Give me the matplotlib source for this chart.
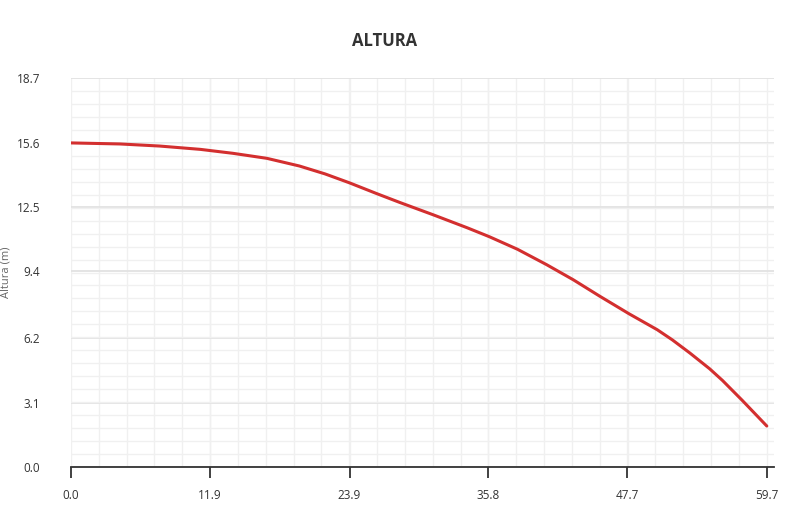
import numpy as np
from matplotlib import pyplot as plt
from matplotlib.ticker import FixedLocator

plt.rcParams['font.family'] = ['Open Sans', 'DejaVu Sans']

# caudal vs altura
caudal = [0.0, 4.2, 7.6, 11.1, 13.9, 16.8, 19.6, 21.8, 23.9, 26.2, 28.2, 31.1,
          34.0, 35.9, 38.3, 40.8, 43.1, 45.4, 47.9, 50.3, 51.6, 53.1, 54.8,
          55.9, 57.6, 59.7]
altura = [15.58, 15.53, 15.43, 15.27, 15.08, 14.84, 14.47, 14.09, 13.66, 13.15,
          12.72, 12.12, 11.50, 11.07, 10.47, 9.73, 9.00, 8.20, 7.36, 6.60,
          6.11, 5.48, 4.72, 4.16, 3.20, 1.97]
x_ticks = [0.0, 11.9, 23.9, 35.8, 47.7, 59.7]
y_ticks = [0.0, 3.1, 6.2, 9.4, 12.5, 15.6, 18.7]

fig = plt.figure(figsize=(7.92, 5.17), dpi=100)
ax = fig.add_axes([0.0896, 0.0967, 0.8874, 0.7524])

ax.plot(caudal, altura, color='#d32f2f', lw=2.2, solid_joinstyle='round',
        solid_capstyle='round', zorder=3)

ax.set_xlim(0, 60.3)
ax.set_ylim(0, 18.7)
ax.xaxis.set_major_locator(FixedLocator(x_ticks))
ax.yaxis.set_major_locator(FixedLocator(y_ticks))
ax.set_xticklabels(['{:.1f}'.format(t) for t in x_ticks])
ax.set_yticklabels(['{:.1f}'.format(t) for t in y_ticks])
ax.xaxis.set_minor_locator(FixedLocator(np.arange(0, 60.3, 59.7 / 25)))
ax.yaxis.set_minor_locator(FixedLocator(np.arange(0, 18.75, 18.7 / 30)))

ax.grid(which='minor', color='#f0f0f0', lw=1)
ax.grid(which='major', axis='x', color='#f0f0f0', lw=1)
ax.grid(which='major', axis='y', color='#e2e2e2', lw=1.3)
ax.set_axisbelow(True)

for s in ['top', 'right', 'left']:
    ax.spines[s].set_visible(False)
ax.spines['bottom'].set_color('#333333')
ax.spines['bottom'].set_linewidth(1.3)

ax.tick_params(axis='x', which='major', length=8, width=1.3, color='#333333',
               labelsize=8.5, labelcolor='#333333', pad=8)
ax.tick_params(axis='y', which='major', length=0, labelsize=8.5, labelcolor='#333333', pad=22)
ax.tick_params(which='minor', length=0)

ax.set_ylabel('Altura (m)', fontsize=8, color='#666666', labelpad=12)
ax.yaxis.set_label_coords(-0.085, 0.5)
fig.text(0.485, 0.92, 'ALTURA', ha='center', va='center', fontsize=12,
         fontweight='bold', color='#333333')

fig.savefig('out.png', dpi=100)
